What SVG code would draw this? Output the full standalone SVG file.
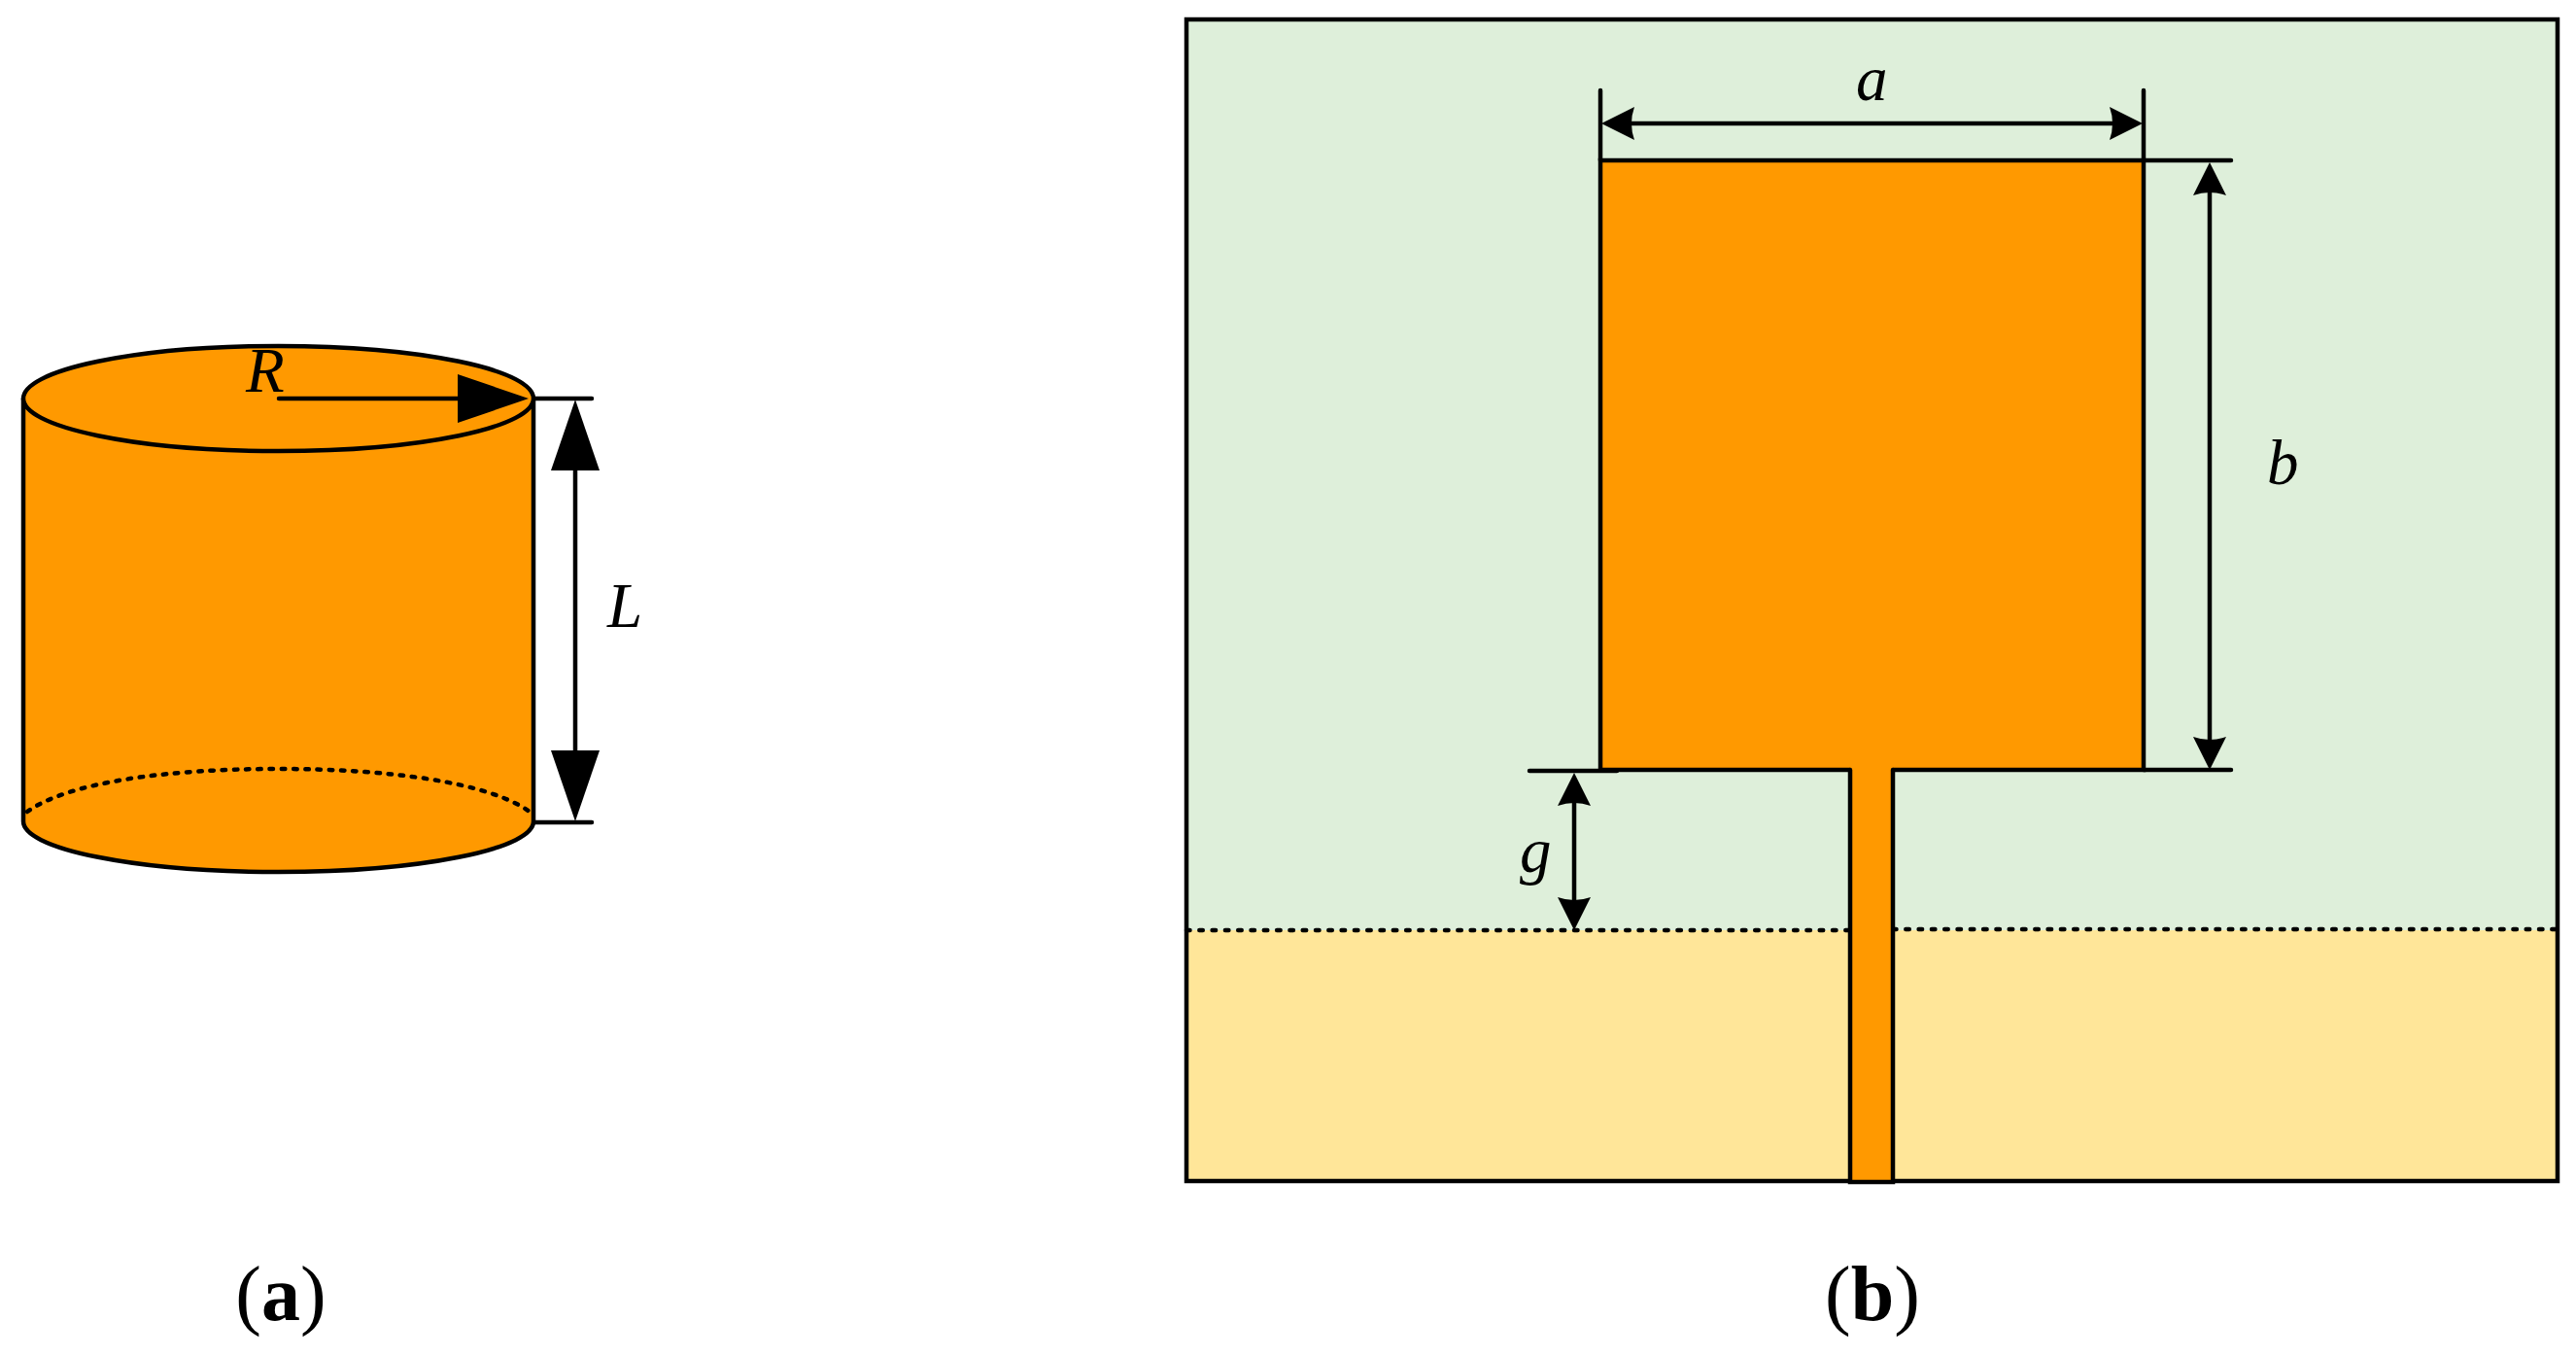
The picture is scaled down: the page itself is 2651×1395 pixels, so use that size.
<svg xmlns="http://www.w3.org/2000/svg" width="2651" height="1395" viewBox="0 0 2651 1395">
<style>
.o{fill:#FF9900}
.s{fill:none;stroke:#000;stroke-width:4.5;stroke-linecap:round}
.d{fill:none;stroke:#000;stroke-width:4.5;stroke-linecap:round;stroke-dasharray:3.5 9.8}
.d2{stroke-width:4.5;stroke-dasharray:3.5 8.7}
.big{marker-start:url(#tri);marker-end:url(#tri)}
.sm{marker-start:url(#barb);marker-end:url(#barb)}
.t{font-family:"Liberation Serif","Times New Roman",serif;font-style:italic;font-size:65px;fill:#000}
.c{font-family:"Liberation Serif","Times New Roman",serif;font-size:80px;fill:#000;text-anchor:middle}
.c tspan{font-weight:bold}
</style>
<defs>
<marker id="tri" markerUnits="userSpaceOnUse" markerWidth="76" markerHeight="52" refX="1" refY="26" orient="auto-start-reverse"><path d="M1,1 L74,26 L1,51 Z" fill="#000"/></marker>
<marker id="barb" markerUnits="userSpaceOnUse" markerWidth="36" markerHeight="36" refX="6" refY="18" orient="auto-start-reverse"><path d="M34,18 L0,1 Q6,18 0,35 Z" fill="#000"/></marker>
</defs>
<rect width="2651" height="1395" fill="#fff"/>
<g id="cylinder">
<path class="o" d="M24,410 V845 A262.5,52 0 0 0 549,845 V410 Z"/>
<path class="s" d="M24,410 V845 A262.5,52 0 0 0 549,845 V410"/>
<ellipse class="s" style="fill:#FF9900" cx="286.5" cy="410" rx="262.5" ry="54"/>
<path class="d d2" d="M28,835 C70,805 170,791 286,791 C402,791 503,805 545,835"/>
</g>
<g id="substrate">
<rect x="1221" y="20" width="1411" height="937" fill="#DEEFDA"/>
<rect x="1221" y="957" width="1411" height="258" fill="#FFE699"/>
<path class="d" d="M1221,957 H1904"/>
<path class="d" d="M1948,956 H2632"/>
<rect class="s" x="1221" y="20" width="1411" height="1195"/>
</g>
<g id="patch">
<rect class="o" x="1647" y="165" width="559" height="627"/>
<path class="s" d="M1647,792 V165 H2206 V792 H1948 M1904,792 H1647"/>
</g>
<g id="feed">
<rect class="o" x="1904" y="790" width="44" height="426"/>
<path class="s" d="M1904,792 V1216 H1948 V792"/>
</g>
<g id="connectors">
<path class="s" d="M550,410 H609 M550,846 H609"/>
<path class="s" d="M1647,93 V165 M2206,93 V165 M2206,165 H2296 M2206,792 H2296 M1574,793 H1664"/>
<path class="s" style="marker-end:url(#tri)" d="M287,410 H471"/>
<path class="s big" d="M592,484 V772"/>
<path class="s sm" d="M1676,127 H2177"/>
<path class="s sm" d="M2274,195 V764"/>
<path class="s sm" d="M1620,823 V929"/>
</g>
<g id="labels">
<text class="t" x="253" y="403">R</text>
<text class="t" x="625" y="645">L</text>
<text class="t" x="1910" y="103">a</text>
<text class="t" x="2333" y="498">b</text>
<text class="t" x="1564" y="897">g</text>
<text class="c" x="289" y="1358">(<tspan>a</tspan>)</text>
<text class="c" x="1927" y="1358">(<tspan>b</tspan>)</text>
</g>
</svg>
